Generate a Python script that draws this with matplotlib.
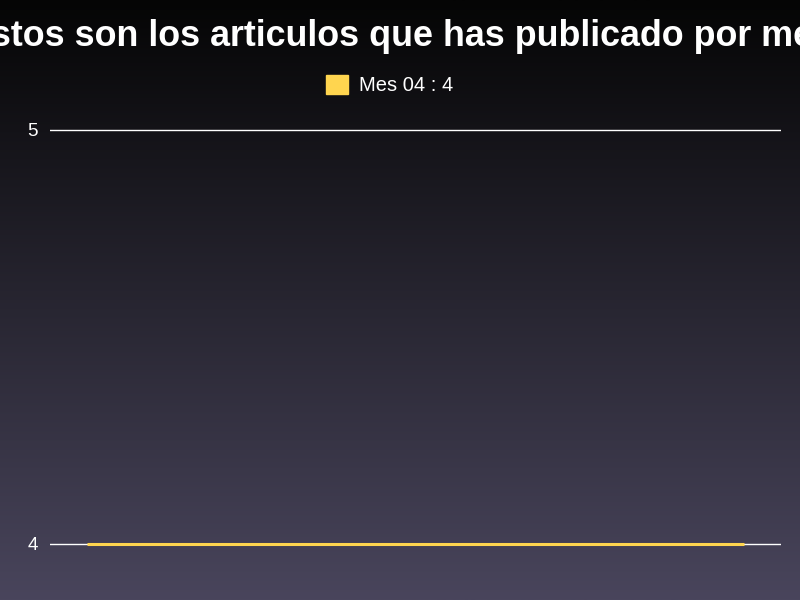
import numpy as np
import matplotlib.pyplot as plt
from matplotlib.patches import Patch

# data
meses = ['Mes 04']
articulos = [4]
base = 4
y_ticks = [4, 5]
titulo = 'Estos son los articulos que has publicado por mes'

plt.rcParams['font.family'] = ['Liberation Sans', 'DejaVu Sans']

fig = plt.figure(figsize=(8, 6), dpi=100)

# gradient background
bg = fig.add_axes([0, 0, 1, 1], zorder=-10)
grad = np.linspace(0, 1, 256).reshape(-1, 1)
top = np.array([5, 5, 5]) / 255
bottom = np.array([73, 69, 92]) / 255
img = top + (bottom - top) * grad[:, :, None]
bg.imshow(img, aspect='auto', extent=[0, 1, 0, 1], origin='upper')
bg.axis('off')

ax = fig.add_axes([50 / 800, 0, 731 / 800, 500 / 600])
ax.set_facecolor('none')
x = np.arange(len(meses))
ax.bar(x, [v - base for v in articulos], bottom=base, width=0.9,
       color='#ffd54f', edgecolor='#ffd54f', linewidth=2.2, zorder=3)
ax.set_xlim(-0.5, 0.5)
ax.set_ylim(4 - 56 / 414, 5 + 30 / 414)
ax.set_yticks(y_ticks)
ax.set_yticklabels([str(t) for t in y_ticks], color='white', fontsize=13.5)
ax.tick_params(axis='y', length=0, pad=9)
ax.set_xticks([])
for s in ax.spines.values():
    s.set_visible(False)
ax.grid(axis='y', color='white', linewidth=1, zorder=1)

fig.text(0.5, 1 - 36 / 600, titulo, ha='center', va='center', color='white',
         fontsize=25.8, fontweight='bold')

handles = [Patch(facecolor='#ffd54f', edgecolor='#ffd54f',
                 label=f'{m} : {v}') for m, v in zip(meses, articulos)]
fig.legend(handles=handles, loc='center', bbox_to_anchor=(0.487, 1 - 85 / 600),
           frameon=False, labelcolor='white', fontsize=14.5,
           handlelength=1.1, handleheight=1.1, handletextpad=0.55)

fig.savefig('out.png', dpi=100)
